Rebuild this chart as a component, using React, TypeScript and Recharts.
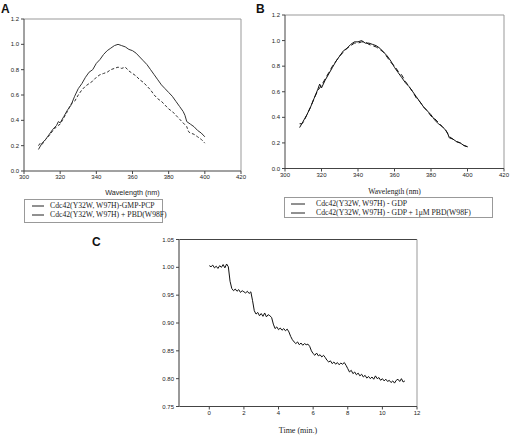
import { LineChart, Line, XAxis, YAxis, ReferenceLine, Label } from "recharts"

const SANS = "'Liberation Sans', Arial, sans-serif"
const SERIF = "'Liberation Serif', 'Times New Roman', serif"

// panel A: Cdc42(Y32W, W97H)-GMP-PCP, with / without PBD(W98F)
const wavelengthA = [
  308, 310, 312, 314, 316, 318, 319, 320, 322, 324, 326, 328, 330, 332, 334, 336, 338,
  340, 342, 344, 346, 348, 350, 352, 354, 356, 358, 360, 362, 364, 366, 368, 370, 372,
  374, 376, 378, 380, 382, 384, 386, 388, 389, 390, 392, 394, 396, 398, 400,
]
const gmpPcp = [
  0.17, 0.22, 0.25, 0.29, 0.33, 0.36, 0.39, 0.38, 0.43, 0.48, 0.52, 0.59, 0.65, 0.69, 0.74, 0.78, 0.8,
  0.85, 0.88, 0.92, 0.95, 0.97, 0.99, 1.0, 0.99, 0.98, 0.96, 0.95, 0.93, 0.9, 0.87, 0.84, 0.8, 0.76,
  0.72, 0.68, 0.65, 0.62, 0.59, 0.55, 0.51, 0.47, 0.44, 0.39, 0.37, 0.35, 0.32, 0.3, 0.27,
]
const wavelengthAPbd = [
  308, 309, 310, 312, 314, 316, 318, 320, 322, 324, 326, 328, 330, 332, 334, 336, 338,
  340, 342, 344, 346, 348, 350, 352, 354, 356, 358, 360, 362, 364, 366, 368, 370, 372,
  374, 376, 378, 380, 382, 384, 386, 388, 390, 391, 392, 394, 396, 398, 400,
]
const gmpPcpPbd = [
  0.2, 0.22, 0.21, 0.25, 0.28, 0.32, 0.35, 0.37, 0.42, 0.47, 0.53, 0.55, 0.6, 0.64, 0.67, 0.69, 0.71,
  0.74, 0.76, 0.77, 0.78, 0.8, 0.81, 0.82, 0.81, 0.82, 0.79, 0.77, 0.75, 0.72, 0.7, 0.67, 0.64, 0.6,
  0.57, 0.55, 0.52, 0.49, 0.47, 0.44, 0.41, 0.38, 0.35, 0.31, 0.3, 0.29, 0.27, 0.25, 0.22,
]

// panel B: GDP form, with / without 1uM PBD(W98F)
const wavelengthB = [
  308, 310, 312, 314, 316, 318, 319, 320, 322, 324, 326, 328, 330, 332, 334, 336, 338,
  340, 342, 344, 346, 348, 350, 352, 354, 356, 358, 360, 362, 364, 366, 368, 370, 372,
  374, 376, 378, 380, 382, 384, 386, 388, 389, 390, 392, 394, 396, 398, 400,
]
const gdp = [
  0.32, 0.37, 0.42, 0.48, 0.55, 0.62, 0.66, 0.63, 0.69, 0.74, 0.79, 0.84, 0.88, 0.92, 0.94, 0.97, 0.99,
  0.99, 1.0, 0.98, 0.98, 0.97, 0.96, 0.94, 0.91, 0.88, 0.84, 0.79, 0.75, 0.71, 0.67, 0.64, 0.6, 0.56,
  0.52, 0.48, 0.45, 0.42, 0.38, 0.35, 0.33, 0.3, 0.28, 0.24, 0.23, 0.21, 0.2, 0.18, 0.17,
]
const wavelengthBPbd = [
  308, 309, 310, 312, 314, 316, 318, 320, 322, 324, 326, 328, 330, 332, 334, 336, 338,
  340, 342, 344, 346, 348, 350, 352, 354, 356, 358, 360, 362, 364, 366, 368, 370, 372,
  374, 376, 378, 380, 382, 384, 386, 388, 390, 392, 394, 396, 398, 400,
]
const gdpPbd = [
  0.35, 0.35, 0.36, 0.42, 0.48, 0.55, 0.61, 0.65, 0.7, 0.75, 0.8, 0.84, 0.88, 0.91, 0.94, 0.96, 0.98,
  0.98, 0.99, 0.99, 0.97, 0.96, 0.95, 0.93, 0.91, 0.87, 0.83, 0.8, 0.76, 0.73, 0.68, 0.64, 0.6, 0.55,
  0.52, 0.48, 0.45, 0.41, 0.39, 0.36, 0.33, 0.3, 0.25, 0.23, 0.21, 0.2, 0.18, 0.17,
]

// panel C: time course
const timeMin = [
  0.0, 0.1, 0.2, 0.3, 0.4, 0.5, 0.6, 0.7, 0.8, 0.9, 1.0, 1.1, 1.2, 1.3, 1.4, 1.5, 1.6, 1.7, 1.8, 1.9,
  2.0, 2.1, 2.2, 2.3, 2.4, 2.5, 2.6, 2.7, 2.8, 2.9, 3.0, 3.1, 3.2, 3.3, 3.4, 3.5, 3.6, 3.7, 3.8, 3.9,
  4.0, 4.1, 4.2, 4.3, 4.4, 4.5, 4.6, 4.7, 4.8, 4.9, 5.0, 5.1, 5.2, 5.3, 5.4, 5.5, 5.6, 5.7, 5.8, 5.9,
  6.0, 6.1, 6.2, 6.3, 6.4, 6.5, 6.6, 6.7, 6.8, 6.9, 7.0, 7.1, 7.2, 7.3, 7.4, 7.5, 7.6, 7.7, 7.8, 7.9,
  8.0, 8.1, 8.2, 8.3, 8.4, 8.5, 8.6, 8.7, 8.8, 8.9, 9.0, 9.1, 9.2, 9.3, 9.4, 9.5, 9.6, 9.7, 9.8, 9.9,
  10.0, 10.1, 10.2, 10.3, 10.4, 10.5, 10.6, 10.7, 10.8, 10.9, 11.0, 11.1, 11.2, 11.3,
]
const fluorescence = [
  1.003, 1.001, 1.004, 0.999, 1.002, 0.998, 1.003, 1.0, 1.005, 0.999, 1.006, 1.001, 0.975, 0.962, 0.958, 0.961, 0.957, 0.96, 0.955, 0.958,
  0.956, 0.954, 0.957, 0.953, 0.956, 0.94, 0.922, 0.916, 0.919, 0.913, 0.917, 0.912, 0.918, 0.911, 0.915, 0.913, 0.91, 0.898, 0.89, 0.893,
  0.888, 0.891, 0.887, 0.89, 0.886, 0.889, 0.884, 0.876, 0.87, 0.866, 0.863, 0.866, 0.861, 0.864, 0.86, 0.863, 0.861, 0.862, 0.858, 0.85,
  0.845, 0.842, 0.846, 0.841, 0.843, 0.839, 0.842, 0.838, 0.833, 0.83, 0.832, 0.827, 0.83, 0.826, 0.829, 0.825, 0.828, 0.826, 0.829, 0.824,
  0.818, 0.812, 0.815, 0.809, 0.812, 0.807, 0.81, 0.805, 0.808, 0.803, 0.806, 0.801, 0.804, 0.8, 0.803, 0.799, 0.805, 0.8, 0.802, 0.797,
  0.8, 0.796, 0.799, 0.795, 0.797, 0.793, 0.796, 0.792, 0.797, 0.799, 0.795, 0.8, 0.794, 0.796,
]

const wavelengthTicks = [300, 320, 340, 360, 380, 400, 420]
const intensityTicks = [0, 0.2, 0.4, 0.6, 0.8, 1.0, 1.2]
const timeTicks = [0, 2, 4, 6, 8, 10, 12]
const fluorescenceTicks = [0.75, 0.8, 0.85, 0.9, 0.95, 1.0, 1.05]

const zip = (xs: number[], ys: number[]) => xs.map((x, i) => ({ x, y: ys[i] }))

const tickStyle = { fontSize: 6, fontFamily: SANS, fill: "#222" }
const axisStroke = { stroke: "#444" }

interface Series {
  data: { x: number; y: number }[]
  dash?: string
  stroke: string
}

interface SpectrumProps {
  left: number
  top: number
  width: number
  height: number
  margin: { top: number; right: number; left: number; bottom: number }
  yAxisWidth: number
  xAxisHeight: number
  labelFamily: string
  labelSize: number
  labelOffset: number
  series: Series[]
}

function SpectrumPanel(p: SpectrumProps) {
  return (
    <div style={{ position: "absolute", left: p.left, top: p.top }}>
      <LineChart width={p.width} height={p.height} margin={p.margin}>
        <XAxis
          type="number"
          dataKey="x"
          domain={[300, 420]}
          ticks={wavelengthTicks}
          height={p.xAxisHeight}
          axisLine={axisStroke}
          tickLine={axisStroke}
          tickSize={3}
          tickMargin={1}
          tick={tickStyle}
          allowDataOverflow
        >
          <Label
            value="Wavelength (nm)"
            position="insideBottom"
            offset={p.labelOffset}
            fontSize={p.labelSize}
            fontFamily={p.labelFamily}
            fill="#222"
          />
        </XAxis>
        <YAxis
          type="number"
          domain={[0, 1.2]}
          ticks={intensityTicks}
          width={p.yAxisWidth}
          tickFormatter={(v: number) => v.toFixed(1)}
          axisLine={axisStroke}
          tickLine={axisStroke}
          tickSize={3}
          tickMargin={2}
          tick={tickStyle}
          allowDataOverflow
        />
        <ReferenceLine y={1.2} stroke="#999" />
        <ReferenceLine x={420} stroke="#999" />
        {p.series.map((s, i) => (
          <Line
            key={i}
            data={s.data}
            dataKey="y"
            type="linear"
            stroke={s.stroke}
            strokeWidth={1}
            strokeDasharray={s.dash}
            dot={false}
            isAnimationActive={false}
          />
        ))}
      </LineChart>
    </div>
  )
}

interface LegendRow {
  label: string
  dash?: string
  y: number
}

function LegendBox({
  left, top, width, height, sampleX, sampleW, textX, rows,
}: {
  left: number; top: number; width: number; height: number
  sampleX: number; sampleW: number; textX: number; rows: LegendRow[]
}) {
  return (
    <div
      style={{
        position: "absolute", left, top, width, height,
        border: "1px solid #999", boxSizing: "border-box",
      }}
    >
      {rows.map((r, i) => (
        <div key={i}>
          <svg
            width={sampleW}
            height={4}
            style={{ position: "absolute", left: sampleX, top: r.y - 2 }}
          >
            <line x1={0} y1={2} x2={sampleW} y2={2} stroke="#222" strokeWidth={1} strokeDasharray={r.dash} />
          </svg>
          <div
            style={{
              position: "absolute", left: textX, top: r.y - 5, whiteSpace: "nowrap",
              fontFamily: SERIF, fontSize: 7.7, lineHeight: "10px", color: "#222",
            }}
          >
            {r.label}
          </div>
        </div>
      ))}
    </div>
  )
}

const letterStyle = {
  position: "absolute" as const,
  fontFamily: SANS,
  fontWeight: 700,
  fontSize: 12,
  lineHeight: "12px",
  color: "#111",
}

export default function App() {
  return (
    <div
      style={{
        position: "absolute", left: 0, top: 0, width: 510, height: 435,
        background: "#fff", overflow: "hidden",
      }}
    >
      <div style={{ ...letterStyle, left: 1, top: 3 }}>A</div>
      <div style={{ ...letterStyle, left: 256, top: 3 }}>B</div>
      <div style={{ ...letterStyle, left: 92, top: 236 }}>C</div>

      <SpectrumPanel
        left={0}
        top={0}
        width={250}
        height={205}
        margin={{ top: 19, right: 9, left: 0, bottom: 0 }}
        yAxisWidth={24}
        xAxisHeight={34}
        labelFamily={SANS}
        labelSize={7.2}
        labelOffset={10}
        series={[
          { data: zip(wavelengthA, gmpPcp), stroke: "#333" },
          { data: zip(wavelengthAPbd, gmpPcpPbd), stroke: "#333", dash: "3 2" },
        ]}
      />
      <LegendBox
        left={24}
        top={199}
        width={139}
        height={24}
        sampleX={7}
        sampleW={12}
        textX={25}
        rows={[
          { label: "Cdc42(Y32W, W97H)-GMP-PCP", y: 6 },
          { label: "Cdc42(Y32W, W97H) + PBD(W98F)", y: 14.5 },
        ]}
      />

      <SpectrumPanel
        left={255}
        top={0}
        width={255}
        height={200}
        margin={{ top: 15, right: 6, left: 0, bottom: 0 }}
        yAxisWidth={30}
        xAxisHeight={31.5}
        labelFamily={SERIF}
        labelSize={7.6}
        labelOffset={6.5}
        series={[
          { data: zip(wavelengthB, gdp), stroke: "#111" },
          { data: zip(wavelengthBPbd, gdpPbd), stroke: "#111", dash: "5 3" },
        ]}
      />
      <LegendBox
        left={284}
        top={197}
        width={209}
        height={21}
        sampleX={6}
        sampleW={14}
        textX={31}
        rows={[
          { label: "Cdc42(Y32W, W97H) - GDP", y: 6 },
          { label: "Cdc42(Y32W, W97H) - GDP + 1\u03bcM PBD(W98F)", y: 14.5 },
        ]}
      />

      <div style={{ position: "absolute", left: 120, top: 225 }}>
        <LineChart width={310} height={210} margin={{ top: 14.5, right: 13, left: 0, bottom: 0 }}>
          <XAxis
            type="number"
            dataKey="x"
            domain={[-1.75, 12]}
            ticks={timeTicks}
            height={28.5}
            axisLine={axisStroke}
            tickLine={axisStroke}
            tickSize={3}
            tickMargin={1}
            tick={tickStyle}
            allowDataOverflow
          >
            <Label
              value="Time (min.)"
              position="insideBottom"
              offset={2}
              fontSize={8}
              fontFamily={SERIF}
              fill="#222"
            />
          </XAxis>
          <YAxis
            type="number"
            domain={[0.75, 1.05]}
            ticks={fluorescenceTicks}
            width={59}
            tickFormatter={(v: number) => v.toFixed(2)}
            axisLine={{ stroke: "#999", strokeWidth: 2 }}
            tickLine={axisStroke}
            tickSize={3}
            tickMargin={2}
            tick={tickStyle}
            allowDataOverflow
          />
          <ReferenceLine y={1.05} stroke="#444" />
          <ReferenceLine x={12} stroke="#999" />
          <Line
            data={zip(timeMin, fluorescence)}
            dataKey="y"
            type="linear"
            stroke="#111"
            strokeWidth={1}
            dot={false}
            isAnimationActive={false}
          />
        </LineChart>
      </div>
    </div>
  )
}
